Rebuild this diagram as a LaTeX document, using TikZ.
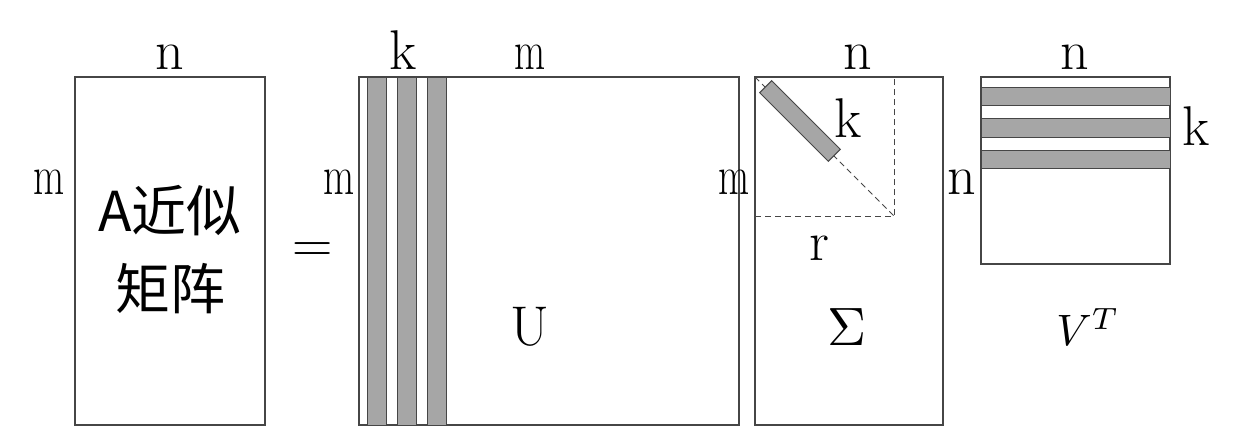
\documentclass[tikz,border=0pt]{standalone}
\usepackage{graphicx}
\usepackage{fontspec}
\newfontfamily\cjk{Noto Sans CJK SC}[FakeStretch=1.0]
\definecolor{bargray}{RGB}{166,166,166}
\definecolor{edge}{RGB}{70,70,70}
\newcommand{\narrowm}{\scalebox{0.72}[1]{m}}
\newcommand{\bigmath}[2]{{\fontsize{10}{12}\selectfont\scalebox{#1}{$#2$}}}
\tikzset{
  mat/.style={draw=edge, line width=1.3pt, fill=white},
  bar/.style={draw=edge, line width=1pt, fill=bargray},
  guide/.style={draw=edge, line width=0.9pt, dash pattern=on 6pt off 4pt},
  lbl/.style={font=\fontsize{56}{60}\selectfont, inner sep=0pt, anchor=base},
}
\begin{document}
\begin{tikzpicture}[x=1pt,y=-1pt]
\useasboundingbox[fill=white] (0,0) rectangle (1246,428);
% A
\draw[mat] (75,77) rectangle (265,425);
\node[font=\cjk\fontsize{55}{78}\selectfont, align=center, inner sep=0pt] (atext) at (170,250) {A近似\\矩阵};
\node[lbl] (an) at (170,70) {n};
\node[lbl] (am) at (49,194) {\narrowm};
\node[lbl] (eq) at (313,262) {=};
% U
\draw[mat] (359,77) rectangle (739,425);
\draw[bar] (367,77) rectangle (386,425);
\draw[bar] (397,77) rectangle (416,425);
\draw[bar] (427,77) rectangle (446,425);
\node[lbl] (uk) at (403,70) {k};
\node[lbl] (umtop) at (530,70) {\narrowm};
\node[lbl] (um) at (339,194) {\narrowm};
\node[lbl] (u) at (530,345) {U};
% Sigma
\draw[mat] (755,77) rectangle (943,425);
\draw[guide] (755,216) -- (894,216) -- (894,77);
\draw[guide] (755,77) -- (894,216);
\draw[bar] (771.7,80.7) -- (759.7,92.7) -- (828.3,161.3) -- (840.3,149.3) -- cycle;
\node[lbl] (sn) at (858,70) {n};
\node[lbl] (sm) at (734,194) {\narrowm};
\node[lbl] (sk) at (848,137) {k};
\node[lbl] (sr) at (819,260) {r};
\node[lbl] (sigma) at (847,345) {\bigmath{5.4}{\Sigma}};
% V^T
\draw[mat] (981,77) rectangle (1170,264);
\draw[bar] (981,87) rectangle (1170,105);
\draw[bar] (981,118) rectangle (1170,137);
\draw[bar] (981,150) rectangle (1170,168);
\node[lbl] (vn) at (1075,70) {n};
\node[lbl] (vl) at (962,194) {n};
\node[lbl] (vk) at (1196,145) {k};
\node[lbl] (vt) at (1088,345) {\bigmath{4.4}{V^T}};
\end{tikzpicture}
\end{document}
